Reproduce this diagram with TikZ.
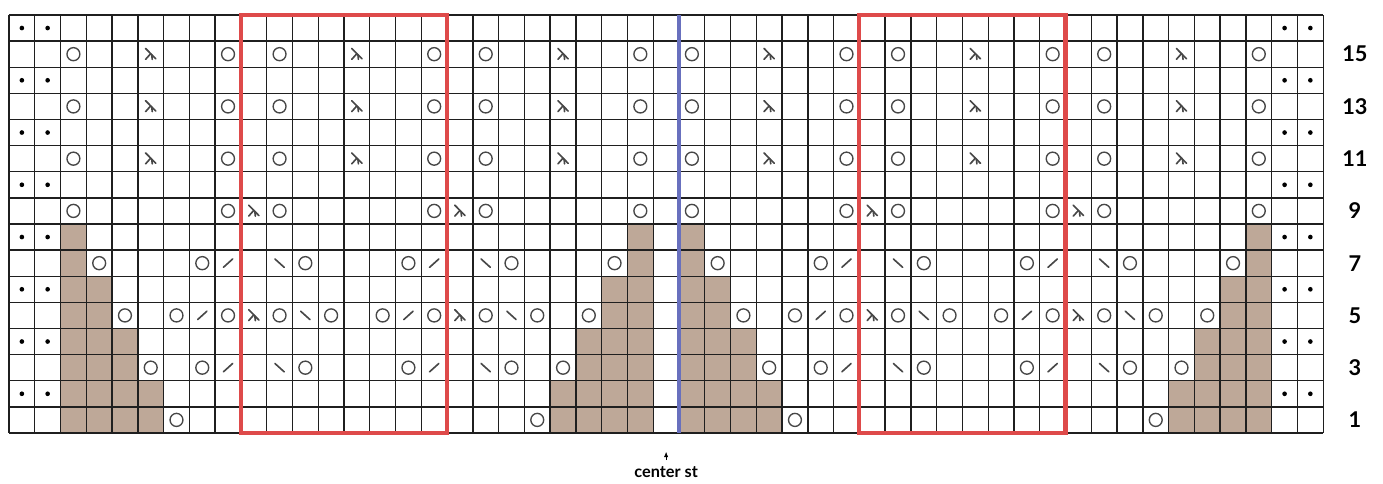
\documentclass[tikz,border=0pt]{standalone}
\usepackage{fontspec}
\setmainfont{Lato}
\usetikzlibrary{arrows.meta}
\definecolor{gridline}{gray}{0.12}
\definecolor{shadecol}{RGB}{190,168,152}
\definecolor{repcol}{RGB}{222,74,74}
\definecolor{centcol}{RGB}{104,112,190}
\definecolor{symcol}{gray}{0.28}
\tikzset{
  yo/.style={draw=symcol,line width=0.75pt},
  purldot/.style={fill=black},
  decline/.style={draw=symcol,line width=0.9pt,line cap=round},
  gridrule/.style={draw=gridline,line width=0.75pt},
  rownum/.style={font=\bfseries\large},
  capt/.style={font=\bfseries\small},
  cdd/.pic={
    \draw[decline] (-0.2,0.22) -- (0.2,-0.18);
    \draw[decline] (0.0,0.02) -- (-0.2,-0.2);
    \draw[decline] (0.04,-0.02) -- (0.06,-0.2);
  },
}

\begin{document}
\begin{tikzpicture}[x=0.5cm,y=0.5069cm]
  \useasboundingbox[fill=white] (-0.349,-1.952) rectangle (53.32,16.574);
  % shaded stitches
  \fill[shadecol] (2,0) rectangle (3,8);
  \fill[shadecol] (3,0) rectangle (4,6);
  \fill[shadecol] (4,0) rectangle (5,4);
  \fill[shadecol] (5,0) rectangle (6,2);
  \fill[shadecol] (24,0) rectangle (25,8);
  \fill[shadecol] (23,0) rectangle (24,6);
  \fill[shadecol] (22,0) rectangle (23,4);
  \fill[shadecol] (21,0) rectangle (22,2);
  \fill[shadecol] (26,0) rectangle (27,8);
  \fill[shadecol] (27,0) rectangle (28,6);
  \fill[shadecol] (28,0) rectangle (29,4);
  \fill[shadecol] (29,0) rectangle (30,2);
  \fill[shadecol] (48,0) rectangle (49,8);
  \fill[shadecol] (47,0) rectangle (48,6);
  \fill[shadecol] (46,0) rectangle (47,4);
  \fill[shadecol] (45,0) rectangle (46,2);
  % chart grid
  \foreach \c in {0,...,51}
    \draw[gridrule] (\c,0) -- (\c,16);
  \foreach \r in {0,...,16}
    \draw[gridrule] (0,\r) -- (51,\r);
  % purl edge stitches
  \foreach \r in {2,4,...,16}
    \foreach \c in {1,2,50,51}
      \fill[purldot] (\c-0.5,\r-0.5) circle (0.09);
  % yarn overs
  \foreach \r in {9,11,13,15}
    \foreach \c in {3,9,11,17,19,25,27,33,35,41,43,49}
      \draw[yo] (\c-0.5,\r-0.5) circle (0.25);
  \foreach \c in {4,8,12,16,20,24,28,32,36,40,44,48}
    \draw[yo] (\c-0.5,6.5) circle (0.25);
  \foreach \c in {5,7,9,11,13,15,17,19,21,23,29,31,33,35,37,39,41,43,45,47}
    \draw[yo] (\c-0.5,4.5) circle (0.25);
  \foreach \c in {6,8,12,16,20,22,30,32,36,40,44,46}
    \draw[yo] (\c-0.5,2.5) circle (0.25);
  \foreach \c in {7,21,31,45}
    \draw[yo] (\c-0.5,0.5) circle (0.25);
  % double decreases
  \foreach \r in {11,13,15}
    \foreach \c in {6,14,22,30,38,46}
      \pic at (\c-0.5,\r-0.5) {cdd};
  \foreach \r in {5,9}
    \foreach \c in {10,18,34,42}
      \pic at (\c-0.5,\r-0.5) {cdd};
  % single decreases
  \foreach \r/\c in {7/9,7/17,7/33,7/41,5/8,5/16,5/32,5/40,3/9,3/17,3/33,3/41}
    \draw[decline] (\c-0.68,\r-0.66) -- (\c-0.32,\r-0.34);
  \foreach \r/\c in {7/11,7/19,7/35,7/43,5/12,5/20,5/36,5/44,3/11,3/19,3/35,3/43}
    \draw[decline] (\c-0.68,\r-0.34) -- (\c-0.32,\r-0.66);
  % repeat boxes and center line
  \draw[repcol,line width=2.3pt] (9,0) rectangle (17,16);
  \draw[repcol,line width=2.3pt] (33,0) rectangle (41,16);
  \draw[centcol,line width=2.2pt] (26,0) -- (26,16);
  % row numbers
  \foreach \r in {1,3,...,15}
    \node[rownum] (num\r) at (52.23,\r-0.5) {\r};
  \node[capt] (cst) at (25.5,-1.5) {center st};
  \coordinate (cstop) at (25.5,-0.72);
  \draw[line width=0.4pt,-{Latex[length=3pt,width=2.4pt]}] (cst.north) -- (cstop);
\end{tikzpicture}
\end{document}
